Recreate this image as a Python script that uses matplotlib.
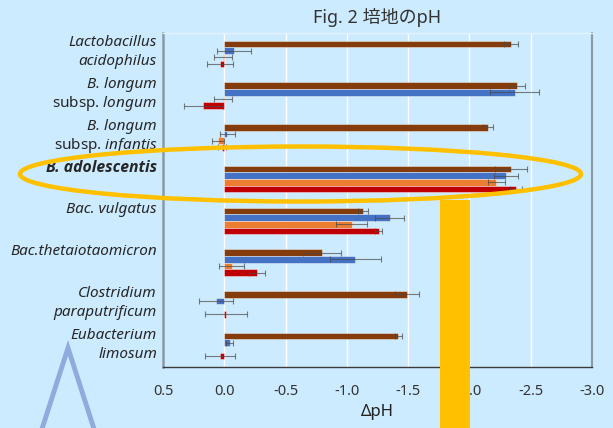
import matplotlib
matplotlib.use("Agg")
import matplotlib.pyplot as plt
import numpy as np
from matplotlib.patches import Ellipse, Rectangle
from matplotlib.lines import Line2D
from matplotlib import font_manager as fm

plt.rcParams['font.family'] = ['Noto Sans', 'Noto Sans CJK JP', 'DejaVu Sans']
plt.rcParams['mathtext.fontset'] = 'custom'
plt.rcParams['mathtext.it'] = 'Noto Sans:italic'
plt.rcParams['mathtext.rm'] = 'Noto Sans'

# ---- data ----
labels = [
    [("Lactobacillus", "italic", "normal"), ("acidophilus", "italic", "normal")],
    [("B. longum", "italic", "normal"), (r"subsp. $\mathit{longum}$", "normal", "normal")],
    [("B. longum", "italic", "normal"), (r"subsp. $\mathit{infantis}$", "normal", "normal")],
    [("B. adolescentis", "italic", "bold")],
    [("Bac. vulgatus", "italic", "normal")],
    [("Bac.thetaiotaomicron", "italic", "normal")],
    [("Clostridium", "italic", "normal"), ("paraputrificum", "italic", "normal")],
    [("Eubacterium", "italic", "normal"), ("limosum", "italic", "normal")],
]
brown = [-2.34, -2.385, -2.15, -2.34, -1.13, -0.795, -1.49, -1.42]
blue = [-0.08, -2.37, -0.025, -2.30, -1.35, -1.07, 0.07, -0.045]
orange = [0.01, 0.01, 0.05, -2.22, -1.04, -0.06, 0.0, 0.0]
red = [0.035, 0.17, 0.02, -2.38, -1.26, -0.265, -0.015, 0.035]
brown_err = [0.06, 0.065, 0.04, 0.13, 0.04, 0.155, 0.10, 0.03]
blue_err = [0.14, 0.20, 0.06, 0.10, 0.12, 0.21, 0.14, 0.03]
orange_err = [0.07, 0.075, 0.05, 0.07, 0.125, 0.10, 0.0, 0.0]
red_err = [0.11, 0.16, 0.03, 0.05, 0.03, 0.065, 0.17, 0.125]
xticks = [0.5, 0.0, -0.5, -1.0, -1.5, -2.0, -2.5, -3.0]
xticklabels = ["0.5", "0.0", "-0.5", "-1.0", "-1.5", "-2.0", "-2.5", "-3.0"]
title = "Fig. 2 培地のpH"
xlabel = "ΔpH"

series = [(brown, brown_err, '#843C0C'), (blue, blue_err, '#4472C4'),
          (orange, orange_err, '#ED7D31'), (red, red_err, '#C00000')]

# find a family with a real (non-condensed) bold italic face
bold_family = 'DejaVu Sans'
for fam in ['Open Sans', 'Lato', 'Liberation Sans', 'Noto Sans']:
    try:
        path = fm.findfont(fm.FontProperties(family=fam, style='italic', weight='bold',
                                             stretch='normal'),
                           fallback_to_default=False)
        low = path.lower()
        if ('bold' in low or 'black' in low) and ('italic' in low or 'oblique' in low) \
                and 'condensed' not in low and 'extra' not in low:
            bold_family = fam
            break
    except Exception:
        pass

W, H = 613, 428
bg = '#CDEBFE'
fig = plt.figure(figsize=(W / 100, H / 100), dpi=100, facecolor=bg)
ax = fig.add_axes([163 / W, (H - 367) / H, (592 - 163) / W, (367 - 33) / H], facecolor=bg)

n = len(brown)
y = np.arange(n)
bh = 0.16
offsets = [-1.5 * bh, -0.5 * bh, 0.5 * bh, 1.5 * bh]

for xt in xticks[1:-1]:
    ax.axvline(xt, color='white', lw=1.0, zorder=0.5)

for (vals, errs, col), off in zip(series, offsets):
    yy = y + off
    ax.barh(yy, vals, height=bh, color=col, edgecolor=(1, 1, 1, 0.6), linewidth=0.5, zorder=2)
    v = np.array(vals); e = np.array(errs)
    m = e > 0
    ax.errorbar(v[m], yy[m], xerr=e[m], fmt='none', ecolor='#4a4a4a', elinewidth=0.8,
                capsize=2.2, capthick=0.8, alpha=0.7, zorder=3)

ax.set_xlim(0.5, -3.0)
ax.set_ylim(n - 0.5, -0.5)
ax.set_xticks(xticks)
ax.set_xticklabels(xticklabels, fontsize=10.5, color='#333333')
ax.tick_params(axis='x', length=0, pad=12)
ax.set_yticks([])
ax.set_xlabel(xlabel, fontsize=12, color='#222222', labelpad=4)
ax.set_title(title, fontsize=13, color='#333333', pad=7)

ax.spines['left'].set_color('#8A99A8'); ax.spines['left'].set_linewidth(1.8)
ax.spines['bottom'].set_color('#3a3a3a'); ax.spines['bottom'].set_linewidth(1.0)
ax.spines['right'].set_color('#8A99A8'); ax.spines['right'].set_linewidth(1.5)
ax.spines['top'].set_color('#E3F3FF'); ax.spines['top'].set_linewidth(1.0)

tr = ax.get_yaxis_transform()
for i, lines in enumerate(labels):
    for j, (txt, style, weight) in enumerate(lines):
        dy = 11 if j == 0 else -8
        kw = {}
        fs = 11
        if weight == 'bold':
            kw['family'] = [bold_family, 'DejaVu Sans']
            kw['fontstretch'] = 'normal'
            fs = 10.5 if bold_family == 'DejaVu Sans' else 11.3
        ax.annotate(txt, xy=(0, i), xycoords=tr, xytext=(-6, dy), textcoords='offset pixels',
                    ha='right', va='center', fontsize=fs, style=style, fontweight=weight,
                    color='#262626', annotation_clip=False, **kw)

def fx(px):
    return px / W

def fy(py):
    return (H - py) / H

# highlight shapes
ell = Ellipse((fx(300.5), fy(174)), 561 / W, 55 / H, transform=fig.transFigure,
              fill=False, edgecolor='#FFC000', lw=3.2, zorder=10)
fig.patches.append(ell)
rect = Rectangle((fx(439.5), 0), 30 / W, fy(200), transform=fig.transFigure,
                 facecolor='#FFC000', edgecolor='none', zorder=10)
fig.patches.append(rect)
tri = Line2D([fx(41), fx(68), fx(95)], [fy(432), fy(348), fy(432)], transform=fig.transFigure,
             color='#8FAADC', lw=3.5, zorder=10, solid_joinstyle='miter')
fig.lines.append(tri)

fig.savefig("out.png", dpi=100, facecolor=bg)
